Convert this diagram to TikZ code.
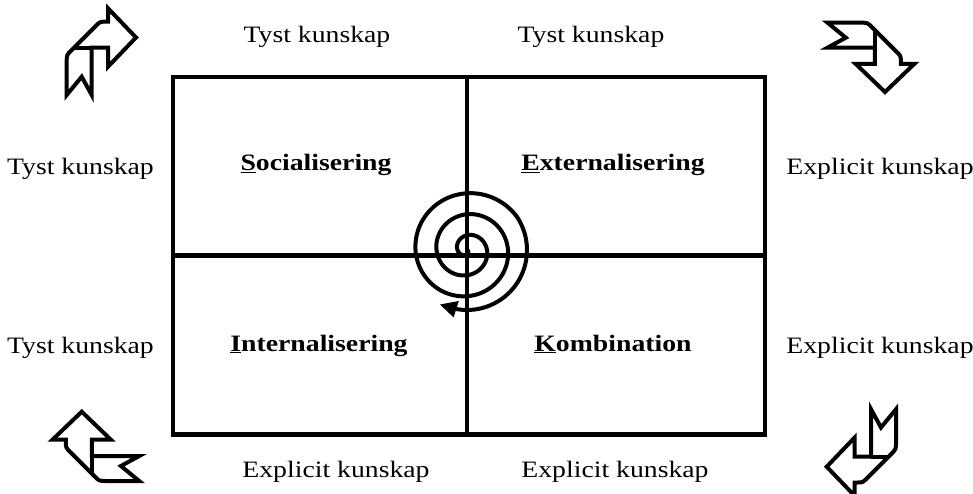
\documentclass[tikz,border=0pt]{standalone}
\usepackage{fontspec}
\setmainfont{Liberation Serif}[FakeStretch=1.18]
\usetikzlibrary{arrows.meta}
\tikzset{
  lbl/.style={font=\fontsize{23.5}{28}\selectfont, anchor=base, inner sep=0pt},
  cell/.style={font=\fontsize{23.5}{28}\selectfont\bfseries, anchor=base, inner sep=0pt},
  gridline/.style={line width=4.2pt},
  spiralline/.style={line width=4pt},
  headfill/.style={fill=black},
  ribbonline/.style={line width=4pt, line join=miter, miter limit=10},
  ribbonpic/.pic={
    \draw[ribbonline] (-34.3,43) -- (-34.3,10) .. controls (-34.3,3) .. (-29.3,-2)
      -- (-6,-25.3) .. controls (-1,-30.3) .. (4,-30.3) -- (7,-30.3)
      -- (7,-43.7) -- (35,-14.5) -- (7,14.7) -- (7,-4.3) -- (-9.3,-4.3)
      -- (-9.3,43) -- (-19.3,24.7) -- cycle;
    \draw[ribbonline] (-9.3,-4.3) -- (-26.5,-4.3);
  }
}
\begin{document}
\begin{tikzpicture}[x=1pt,y=-1pt]
\useasboundingbox (0,0) rectangle (973,494);

% grid
\coordinate (nw) at (173,77);
\coordinate (se) at (765,434.5);
\coordinate (mt) at (467.3,77);
\coordinate (mb) at (467.3,434.5);
\coordinate (ml) at (173,255.5);
\coordinate (mr) at (765,255.5);
\draw[gridline] (nw) rectangle (se);
\draw[gridline] (mt) -- (mb);
\draw[gridline] (ml) -- (mr);

% spiral
\draw[spiralline]
  plot[domain=-330:822, samples=300, smooth]
  ({467+min(20+\x/360*21,60)*cos(\x)}, {250+min(20+\x/360*21,60)*sin(\x)});
\coordinate (tip) at (440,304.5);
\coordinate (ba) at (458.8,301);
\coordinate (bb) at (453.6,317.4);
\fill[headfill] (tip) -- (ba) -- (bb) -- cycle;

% cell labels
\node[cell] (soc) at (316,171) {\underline{S}ocialisering};
\node[cell] (ext) at (613,171) {\underline{E}xternalisering};
\node[cell] (int) at (319,351) {\underline{I}nternalisering};
\node[cell] (kom) at (613,351) {\underline{K}ombination};

% outer labels
\node[lbl] (tt1) at (317,43) {Tyst kunskap};
\node[lbl] (tt2) at (591,43) {Tyst kunskap};
\node[lbl] (tl1) at (80.5,175) {Tyst kunskap};
\node[lbl] (tl2) at (80.5,353) {Tyst kunskap};
\node[lbl] (er1) at (880,175) {Explicit kunskap};
\node[lbl] (er2) at (880,353) {Explicit kunskap};
\node[lbl] (eb1) at (336,477) {Explicit kunskap};
\node[lbl] (eb2) at (615,477) {Explicit kunskap};

% corner ribbons
\pic (rtl) at (101,52) {ribbonpic};
\pic[rotate=-90] (rtr) at (870.5,57) {ribbonpic};
\pic[rotate=180] (rbr) at (861.7,452.2) {ribbonpic};
\pic[rotate=90] (rbl) at (96.2,446.7) {ribbonpic};
\end{tikzpicture}
\end{document}
